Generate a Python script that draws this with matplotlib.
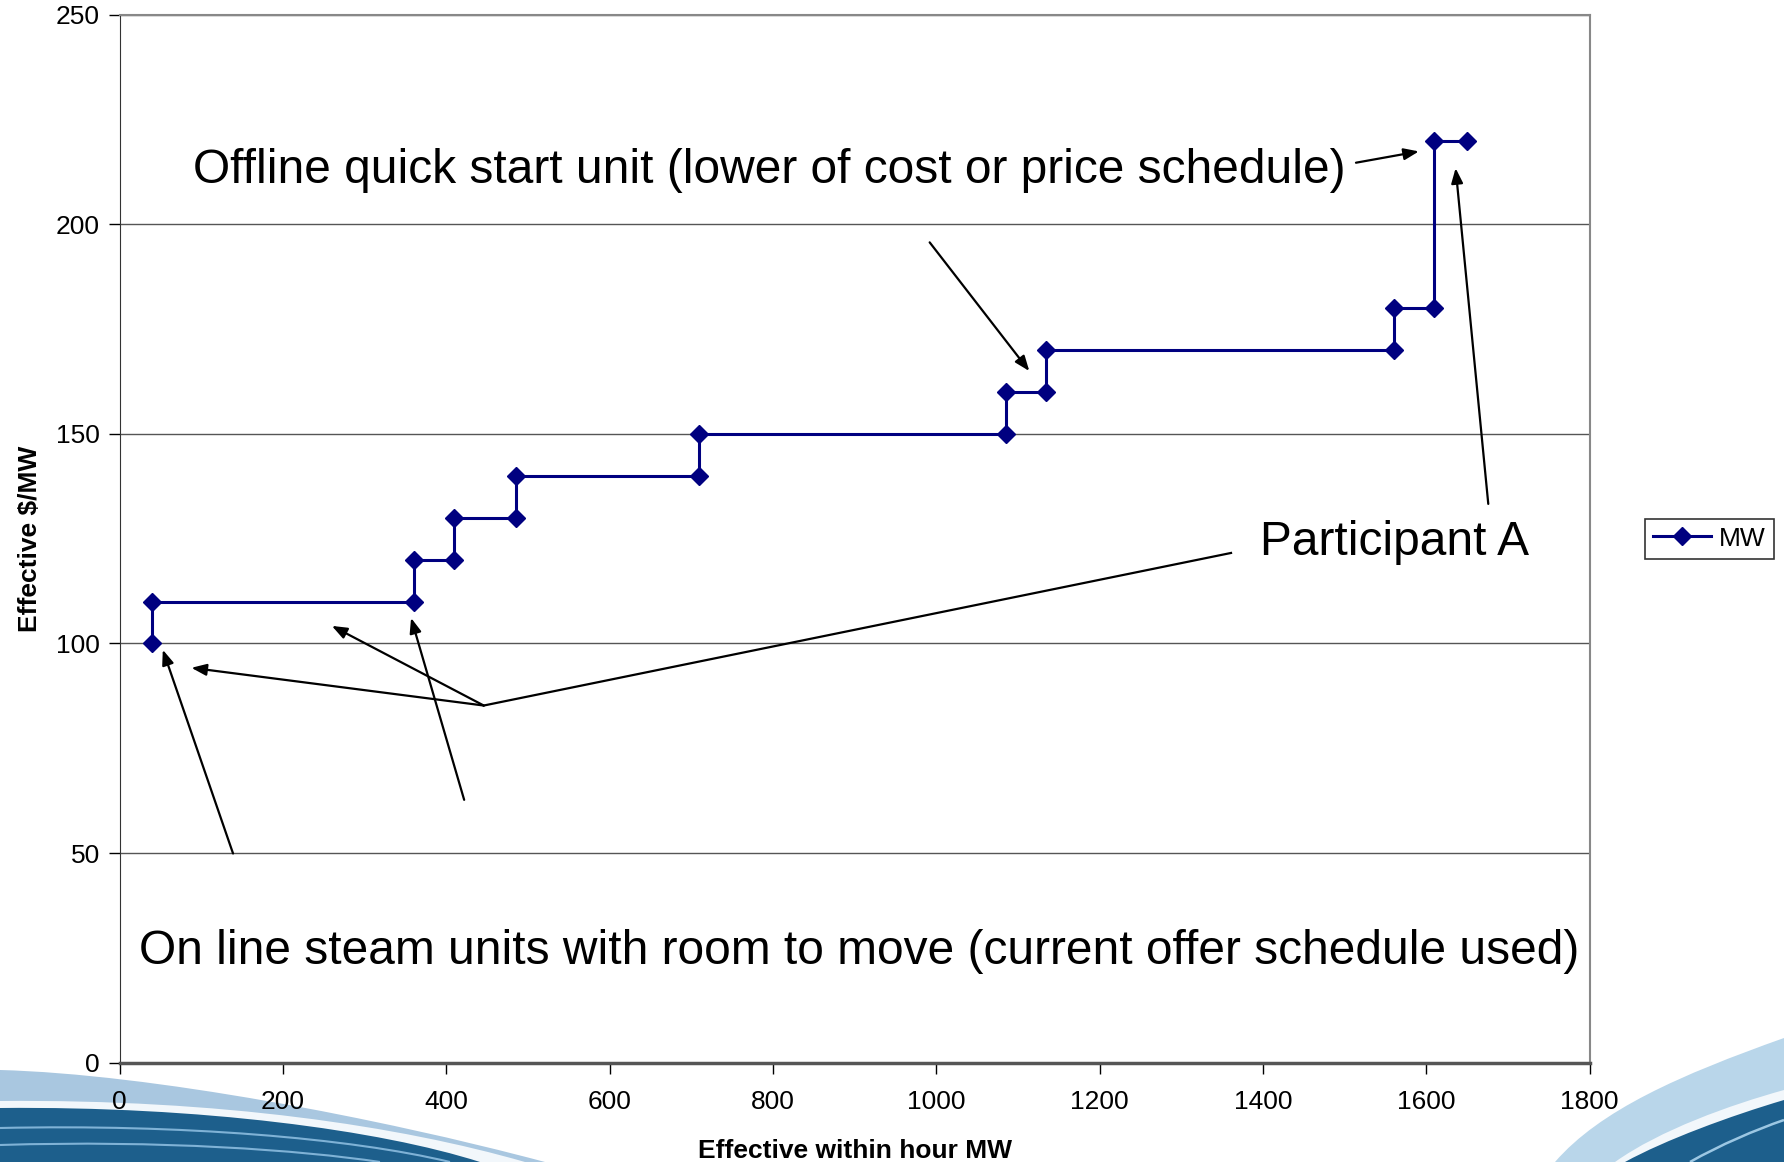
import numpy as np
import matplotlib.pyplot as plt
from matplotlib.path import Path
from matplotlib.patches import PathPatch

plt.rcParams['font.family'] = ['Liberation Sans', 'DejaVu Sans']

# offer curve for Participant A (step points)
mw = [40, 40, 360, 360, 410, 410, 485, 485, 710, 710,
      1085, 1085, 1135, 1135, 1560, 1560, 1610, 1610, 1650]
price = [100, 110, 110, 120, 120, 130, 130, 140, 140, 150,
         150, 160, 160, 170, 170, 180, 180, 220, 220]

x_ticks = [0, 200, 400, 600, 800, 1000, 1200, 1400, 1600, 1800]
y_ticks = [0, 50, 100, 150, 200, 250]

fig = plt.figure(figsize=(17.84, 11.62), dpi=100)
fig.patch.set_facecolor('white')

W, H = 1784.0, 1162.0

def f(x, y):
    return (x / W, 1 - y / H)

# background wave decoration from the slide template
def wave(p0, c1, c2, p1, corners, color):
    verts = [f(*p0), f(*c1), f(*c2), f(*p1)] + [f(*c) for c in corners] + [f(*p0)]
    codes = [Path.MOVETO, Path.CURVE4, Path.CURVE4, Path.CURVE4] + \
            [Path.LINETO] * len(corners) + [Path.CLOSEPOLY]
    fig.patches.append(PathPatch(Path(verts, codes), facecolor=color, edgecolor='none',
                                 transform=fig.transFigure, zorder=-5))

def streak(p0, c1, c2, p1, color, lw):
    verts = [f(*p0), f(*c1), f(*c2), f(*p1)]
    codes = [Path.MOVETO, Path.CURVE4, Path.CURVE4, Path.CURVE4]
    fig.patches.append(PathPatch(Path(verts, codes), facecolor='none', edgecolor=color,
                                 lw=lw, transform=fig.transFigure, zorder=-4))

# left
wave((0, 1070), (150, 1074), (380, 1118), (545, 1162), [(0, 1162)], '#a9c7e0')
wave((0, 1101), (220, 1099), (400, 1126), (525, 1162), [(0, 1162)], '#f2f7fb')
wave((0, 1108), (200, 1106), (380, 1130), (480, 1162), [(0, 1162)], '#1d5f8c')
streak((0, 1128), (180, 1124), (350, 1138), (450, 1162), '#7fb2d6', 1.5)
streak((0, 1145), (160, 1140), (300, 1150), (380, 1162), '#7fb2d6', 1.5)
# right
wave((1555, 1162), (1600, 1110), (1680, 1075), (1784, 1038), [(1784, 1162)], '#b9d6ea')
wave((1615, 1162), (1660, 1130), (1730, 1105), (1784, 1090), [(1784, 1162)], '#f2f7fb')
wave((1625, 1162), (1665, 1140), (1730, 1116), (1784, 1100), [(1784, 1162)], '#1d5f8c')
streak((1690, 1162), (1720, 1145), (1755, 1130), (1784, 1120), '#9cc7e3', 1.8)

ax = fig.add_axes([0.067, 0.0855, 0.824, 0.9018])
ax.set_facecolor('white')

ax.plot(mw, price, color='#000080', lw=2.2, marker='D', ms=9, label='MW', zorder=3)

ax.set_xlim(0, 1800)
ax.set_ylim(0, 250)
ax.set_xticks(x_ticks)
ax.set_yticks(y_ticks)
ax.tick_params(labelsize=19, direction='out', length=8, width=1)
ax.tick_params(axis='x', pad=12)
ax.tick_params(axis='y', pad=6)
ax.yaxis.grid(True, color='#555555', lw=1)
ax.set_axisbelow(True)
for s in ['top', 'right']:
    ax.spines[s].set_color('#888888')
    ax.spines[s].set_linewidth(1.5)
ax.spines['left'].set_color('#333333')
ax.spines['bottom'].set_color('#555555')
ax.spines['bottom'].set_linewidth(2.5)

ax.set_xlabel('Effective within hour MW', fontsize=19, fontweight='bold', labelpad=18)
ax.set_ylabel('Effective $/MW', fontsize=19, fontweight='bold', labelpad=10)

# annotations
arr = dict(arrowstyle='-|>,head_length=0.9,head_width=0.35', color='black', lw=1.6,
           shrinkA=0, shrinkB=0)
ax.text(90, 212.8, 'Offline quick start unit (lower of cost or price schedule)',
        fontsize=34.5, va='center', ha='left')
ax.annotate('', xy=(1591, 217.4), xytext=(1514, 214.7), arrowprops=arr)
ax.annotate('', xy=(1114, 165.0), xytext=(992, 195.7), arrowprops=arr)

ax.text(1396, 124.1, 'Participant A', fontsize=34.5, va='center', ha='left')
ax.annotate('', xy=(1636, 213.4), xytext=(1676, 133.3), arrowprops=arr)

ax.plot([1361, 446], [121.6, 85.2], color='black', lw=1.6)
ax.annotate('', xy=(88, 94.2), xytext=(446, 85.2), arrowprops=arr)
ax.annotate('', xy=(260, 104.2), xytext=(446, 85.2), arrowprops=arr)
ax.annotate('', xy=(357, 106.1), xytext=(422, 62.7), arrowprops=arr)
ax.annotate('', xy=(53, 98.5), xytext=(139, 49.9), arrowprops=arr)

ax.text(24, 26.6, 'On line steam units with room to move (current offer schedule used)',
        fontsize=34.5, va='center', ha='left')

leg = ax.legend(loc='center left', bbox_to_anchor=(1.038, 0.5), fontsize=19,
                frameon=True, fancybox=False, edgecolor='black', handlelength=2.2,
                borderpad=0.3, handletextpad=0.3, borderaxespad=0)
leg.get_frame().set_linewidth(1.2)

fig.savefig('out.png', dpi=100)
